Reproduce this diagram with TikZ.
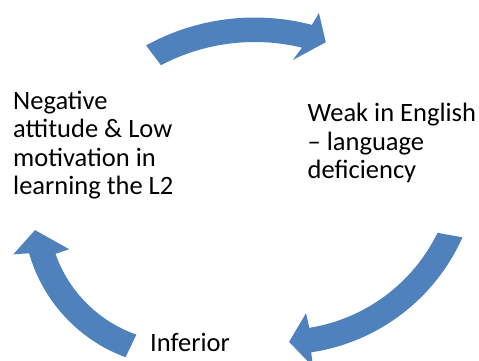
\documentclass[tikz,border=0pt]{standalone}
\usepackage{fontspec}
\setmainfont{Carlito}
\usetikzlibrary{calc}
\definecolor{arrowblue}{HTML}{4F81BD}
\tikzset{
  arrowfill/.style={fill=arrowblue, draw=none},
  cycletext/.style={anchor=base west, align=left, inner sep=0pt, text=black,
    font=\fontsize{26.5pt}{28.3pt}\selectfont}
}
\begin{document}
\begin{tikzpicture}[x=1pt,y=1pt]
\useasboundingbox (0,0) rectangle (479,360);
\clip (0,0) rectangle (479,360);
% centres of the three arcs
\coordinate (T) at (254.7,117);
\coordinate (R) at (282,203);
\coordinate (L) at (180,150);
% top arrow
\fill[arrowfill] ($(T)+(118.8:225.5)$) arc[start angle=118.8, end angle=75.3, radius=225.5]
  -- ($(T)+(74.4:238.8)$) -- ($(T)+(70.5:213)$) -- ($(T)+(78.2:187)$)
  -- ($(T)+(76.4:201)$) arc[start angle=76.4, end angle=117.8, radius=201] -- cycle;
% right arrow
\fill[arrowfill] ($(R)+(-24:197.5)$) arc[start angle=-24, end angle=-81.5, radius=197.5]
  -- ($(R)+(-81.6:212)$) -- ($(R)+(-87.8:185)$) -- ($(R)+(-81.25:158)$)
  -- ($(R)+(-80.9:173)$) arc[start angle=-80.9, end angle=-26, radius=173] -- cycle;
% left arrow
\fill[arrowfill] ($(L)+(249.7:157)$) arc[start angle=249.7, end angle=196, radius=157]
  -- ($(L)+(194.9:172.5)$) -- ($(L)+(187.9:146.4)$) -- ($(L)+(199.5:117.5)$)
  -- ($(L)+(199.4:132)$) arc[start angle=199.4, end angle=250.7, radius=132] -- cycle;
% texts (base anchor = baseline of the last line)
\node[cycletext] (neg) at (13,165.5) {Negative\\attitude \& Low\\motivation in\\learning the L2};
\node[cycletext] (weak) at (307.5,181.5) {Weak in English\\– language\\deficiency};
\node[cycletext] (inf) at (150,8.3) {Inferior};
\end{tikzpicture}
\end{document}
